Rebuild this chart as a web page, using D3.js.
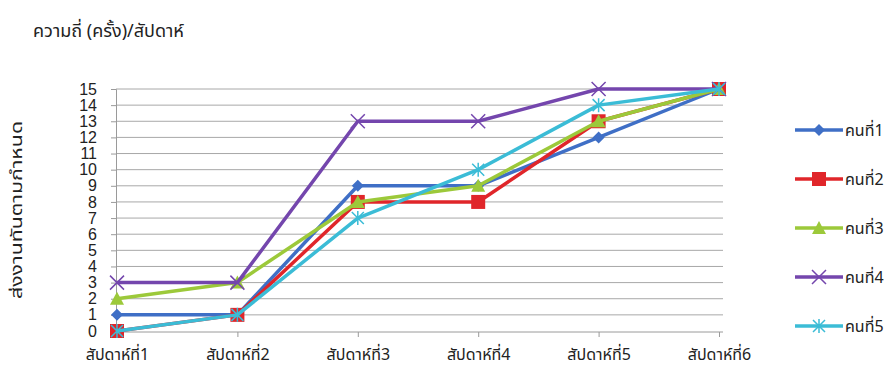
<!DOCTYPE html>
<html>
<head>
<meta charset="utf-8">
<script src="https://cdn.jsdelivr.net/npm/d3@7"></script>
<style>
  html, body { margin: 0; padding: 0; background: #fff; }
  svg text { font-family: "Noto Sans Thai", Tahoma, "DejaVu Sans", sans-serif; fill: #222; }
</style>
</head>
<body>
<svg id="chart" width="895" height="378"></svg>
<script>
// Weeks along the x axis
const weeks = ["สัปดาห์ที่1", "สัปดาห์ที่2", "สัปดาห์ที่3", "สัปดาห์ที่4", "สัปดาห์ที่5", "สัปดาห์ที่6"];
// On-time submissions per person, per week
const person1 = [1, 1, 9, 9, 12, 15];
const person2 = [0, 1, 8, 8, 13, 15];
const person3 = [2, 3, 8, 9, 13, 15];
const person4 = [3, 3, 13, 13, 15, 15];
const person5 = [0, 1, 7, 10, 14, 15];
const seriesNames = ["คนที่1", "คนที่2", "คนที่3", "คนที่4", "คนที่5"];
const yTicks = d3.range(0, 16);

const series = [
  { name: seriesNames[0], values: person1, color: "#3f6fc6", marker: "diamond" },
  { name: seriesNames[1], values: person2, color: "#e0262a", marker: "square" },
  { name: seriesNames[2], values: person3, color: "#9cc93a", marker: "triangle" },
  { name: seriesNames[3], values: person4, color: "#7446ad", marker: "x" },
  { name: seriesNames[4], values: person5, color: "#3bbcd6", marker: "star" }
];

const svg = d3.select("#chart");
const plot = { left: 117, right: 719, top: 89, bottom: 331 };

const x = d3.scalePoint().domain(weeks).range([plot.left, plot.right]);
const y = d3.scaleLinear().domain([0, 15]).range([plot.bottom, plot.top]);

// Horizontal gridlines
svg.append("g")
  .selectAll("line")
  .data(yTicks.filter(d => d > 0))
  .join("line")
  .attr("x1", plot.left - 1).attr("x2", plot.right + 4)
  .attr("y1", d => y(d)).attr("y2", d => y(d))
  .attr("stroke", "#a8a8a8").attr("stroke-width", 1);

// Y axis
const yAxis = svg.append("g")
  .attr("transform", `translate(${plot.left - 1},0)`)
  .call(d3.axisLeft(y).tickValues(yTicks).tickSize(5).tickPadding(14));
yAxis.select(".domain").attr("stroke", "#9a9a9a");
yAxis.selectAll(".tick line").attr("stroke", "#9a9a9a");
yAxis.selectAll("text").attr("font-size", 16).attr("fill", "#222")
  .style("font-family", "'Liberation Sans', Arial, sans-serif");

// X axis
const xAxis = svg.append("g")
  .attr("transform", `translate(0,${plot.bottom + 1})`)
  .call(d3.axisBottom(x).tickSize(5).tickPadding(12));
xAxis.select(".domain").attr("stroke", "#9a9a9a").attr("d", `M${plot.left - 1},0H${plot.right + 4}`);
xAxis.selectAll(".tick line").attr("stroke", "#9a9a9a");
xAxis.selectAll("text").attr("font-size", 16).attr("fill", "#222");

// Marker shapes
function drawMarker(g, type, color) {
  switch (type) {
    case "diamond":
      g.append("path").attr("d", "M0,-6L6,0L0,6L-6,0Z").attr("fill", color);
      break;
    case "square":
      g.append("rect").attr("x", -7).attr("y", -7).attr("width", 14).attr("height", 14).attr("fill", color);
      break;
    case "triangle":
      g.append("path").attr("d", "M0,-7L7,6L-7,6Z").attr("fill", color);
      break;
    case "x":
      g.append("path").attr("d", "M-7,-7L7,7M7,-7L-7,7").attr("stroke", color).attr("stroke-width", 1.5).attr("fill", "none");
      break;
    case "star":
      g.append("path").attr("d", "M-6,-6L6,6M6,-6L-6,6M0,-7L0,7").attr("stroke", color).attr("stroke-width", 1.5).attr("fill", "none");
      break;
  }
}

const line = d3.line().x((d, i) => x(weeks[i])).y(d => y(d));

series.forEach(s => {
  const g = svg.append("g");
  g.append("path").datum(s.values)
    .attr("d", line)
    .attr("fill", "none").attr("stroke", s.color)
    .attr("stroke-width", 3.5).attr("stroke-linejoin", "round");
  s.values.forEach((v, i) => {
    const m = g.append("g").attr("transform", `translate(${x(weeks[i])},${y(v)})`);
    drawMarker(m, s.marker, s.color);
  });
});

// Legend
const legend = svg.append("g");
const legendY = d3.scalePoint().domain(seriesNames).range([130, 326]);
series.forEach(s => {
  const ly = legendY(s.name);
  legend.append("line").attr("x1", 795).attr("x2", 843).attr("y1", ly).attr("y2", ly)
    .attr("stroke", s.color).attr("stroke-width", 3.5);
  drawMarker(legend.append("g").attr("transform", `translate(819,${ly})`), s.marker, s.color);
  legend.append("text").attr("x", 845).attr("y", ly + 6).attr("font-size", 16).text(s.name);
});

// Titles
svg.append("text").attr("x", 33).attr("y", 37).attr("font-size", 18).text("ความถี่ (ครั้ง)/สัปดาห์");
svg.append("text")
  .attr("transform", "translate(22,210) rotate(-90)")
  .attr("text-anchor", "middle").attr("font-size", 16)
  .attr("textLength", 178).attr("lengthAdjust", "spacingAndGlyphs")
  .text("ส่งงานทันตามกำหนด");
</script>
</body>
</html>
